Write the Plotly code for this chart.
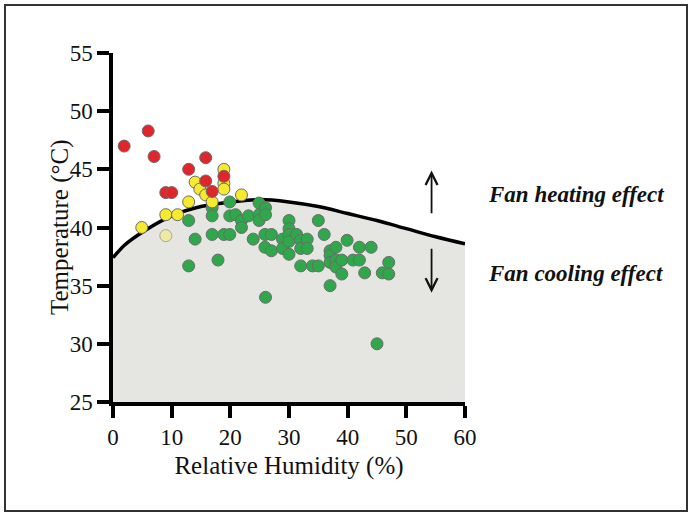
import plotly.graph_objects as go

# Boundary curve (fan heating / cooling threshold)
curve_rh = [0, 2, 5, 10, 15, 20, 25, 30, 35, 40, 45, 50, 55, 60]
curve_t = [37.4, 38.5, 39.6, 41.0, 41.8, 42.2, 42.4, 42.2, 41.8, 41.2, 40.6, 39.9, 39.2, 38.6]

red_rh = [1.9, 6.0, 7.0, 9.0, 10.0, 12.9, 15.8, 15.8, 16.9, 18.9]
red_t = [47.0, 48.3, 46.1, 43.0, 43.0, 45.0, 46.0, 44.0, 43.1, 44.4]

yellow_rh = [4.9, 9.0, 11.0, 12.9, 14.0, 14.8, 15.8, 16.9, 18.9, 18.9, 18.9, 21.9]
yellow_t = [40.0, 41.1, 41.1, 42.2, 43.9, 43.3, 42.8, 42.2, 45.0, 43.8, 43.3, 42.8]

pale_rh = [9.0]
pale_t = [39.3]

green_rh = [12.9, 14.0, 12.9, 16.9, 16.9, 16.9, 17.9, 18.9, 19.9, 19.9, 19.9, 20.9,
            21.9, 21.9, 23.1, 23.9, 24.9, 24.9, 24.9, 26.0, 26.0, 25.9, 27.0, 25.9,
            27.0, 26.0, 28.9, 28.9, 30.0, 30.0, 30.0, 30.0, 30.0, 31.3, 32.0, 32.0,
            33.1, 33.1, 32.0, 34.0, 35.0, 35.0, 36.0, 37.0, 37.0, 37.0, 37.0, 38.0,
            38.0, 38.0, 39.0, 39.0, 39.9, 40.9, 42.0, 42.0, 44.0, 42.9, 45.9, 47.0,
            47.0, 45.0]
green_t = [40.6, 39.0, 36.7, 41.7, 41.0, 39.4, 37.2, 39.4, 42.2, 41.0, 39.4, 41.1,
           40.6, 40.0, 41.0, 39.0, 42.1, 41.1, 40.6, 41.7, 41.1, 39.4, 39.4, 38.3,
           38.0, 34.0, 39.0, 38.2, 40.6, 39.9, 39.4, 38.8, 37.7, 39.4, 38.9, 38.2,
           39.0, 38.2, 36.7, 36.7, 36.7, 40.6, 39.4, 38.0, 37.6, 37.0, 35.0, 38.3,
           37.2, 36.6, 37.2, 36.0, 38.9, 37.2, 37.2, 38.3, 38.3, 36.1, 36.1, 36.0,
           37.0, 30.0]

x_ticks = [0, 10, 20, 30, 40, 50, 60]
y_ticks = [25, 30, 35, 40, 45, 50, 55]

serif = "Liberation Serif, Times New Roman, serif"

fig = go.Figure()

fig.add_trace(go.Scatter(
    x=curve_rh, y=curve_t, mode="lines", line=dict(color="black", width=3.5, shape="spline"),
    fill="tozeroy", fillcolor="#e5e5e2", hoverinfo="skip", showlegend=False))

marker_line = dict(color="#6b6b6b", width=1)
MS = 12
fig.add_trace(go.Scatter(x=green_rh, y=green_t, mode="markers",
                         marker=dict(size=MS, color="#2ea84a", line=marker_line), showlegend=False))
fig.add_trace(go.Scatter(x=pale_rh, y=pale_t, mode="markers",
                         marker=dict(size=MS, color="#efeaa0", line=dict(color="#a8a8a0", width=1)),
                         showlegend=False))
fig.add_trace(go.Scatter(x=yellow_rh, y=yellow_t, mode="markers",
                         marker=dict(size=MS, color="#f6ea2e", line=marker_line), showlegend=False))
fig.add_trace(go.Scatter(x=red_rh, y=red_t, mode="markers",
                         marker=dict(size=MS, color="#e1262b", line=marker_line), showlegend=False))

# arrows
fig.add_annotation(x=54.3, y=44.9, ax=54.3, ay=41.1, xref="x", yref="y", axref="x", ayref="y",
                   showarrow=True, arrowhead=5, arrowsize=1.3, arrowwidth=1.8, arrowcolor="#111",
                   text="")
fig.add_annotation(x=54.3, y=34.4, ax=54.3, ay=38.3, xref="x", yref="y", axref="x", ayref="y",
                   showarrow=True, arrowhead=5, arrowsize=1.3, arrowwidth=1.8, arrowcolor="#111",
                   text="")

W, H = 692, 521
L, R, T, B = 113, 465, 53, 402
pw, ph = R - L, B - T

def px(xp):
    return (xp - L) / pw

def py(yp):
    return (B - yp) / ph

fig.add_annotation(x=px(486), y=py(194), xref="paper", yref="paper", xanchor="left", yanchor="middle",
                   text="<b><i>Fan heating effect</i></b>", showarrow=False,
                   font=dict(family=serif, size=23, color="#111"))
fig.add_annotation(x=px(486), y=py(273), xref="paper", yref="paper", xanchor="left", yanchor="middle",
                   text="<b><i>Fan cooling effect</i></b>", showarrow=False,
                   font=dict(family=serif, size=23, color="#111"))

# y title
fig.add_annotation(x=px(44), y=py(227), xref="paper", yref="paper", textangle=-90,
                   text="Temperature (°C)", showarrow=False,
                   font=dict(family=serif, size=25, color="#111"))

# outer frame
fig.add_shape(type="rect", xref="paper", yref="paper",
              x0=px(5), x1=px(687), y0=py(511), y1=py(5),
              line=dict(color="#333", width=2), fillcolor="rgba(0,0,0,0)", layer="below")

fig.update_layout(
    width=W, height=H,
    margin=dict(l=L, r=W - R, t=T, b=H - B, pad=0),
    paper_bgcolor="white", plot_bgcolor="white",
    font=dict(family=serif, size=23, color="#111"),
    xaxis=dict(range=[0, 60], tickvals=x_ticks, showline=True, linewidth=3.5, linecolor="black",
               ticks="outside", ticklen=12, tickwidth=3.5, tickcolor="black", showgrid=False,
               zeroline=False, title=dict(text="Relative Humidity (%)", standoff=8,
                                          font=dict(size=25))),
    yaxis=dict(range=[25, 55], tickvals=y_ticks, showline=True, linewidth=3.5, linecolor="black",
               ticks="outside", ticklen=12, tickwidth=3.5, tickcolor="black", showgrid=False,
               zeroline=False),
)

fig.write_html("out.html", config={"displayModeBar": False},
               post_script="document.body.style.margin='0px';")
